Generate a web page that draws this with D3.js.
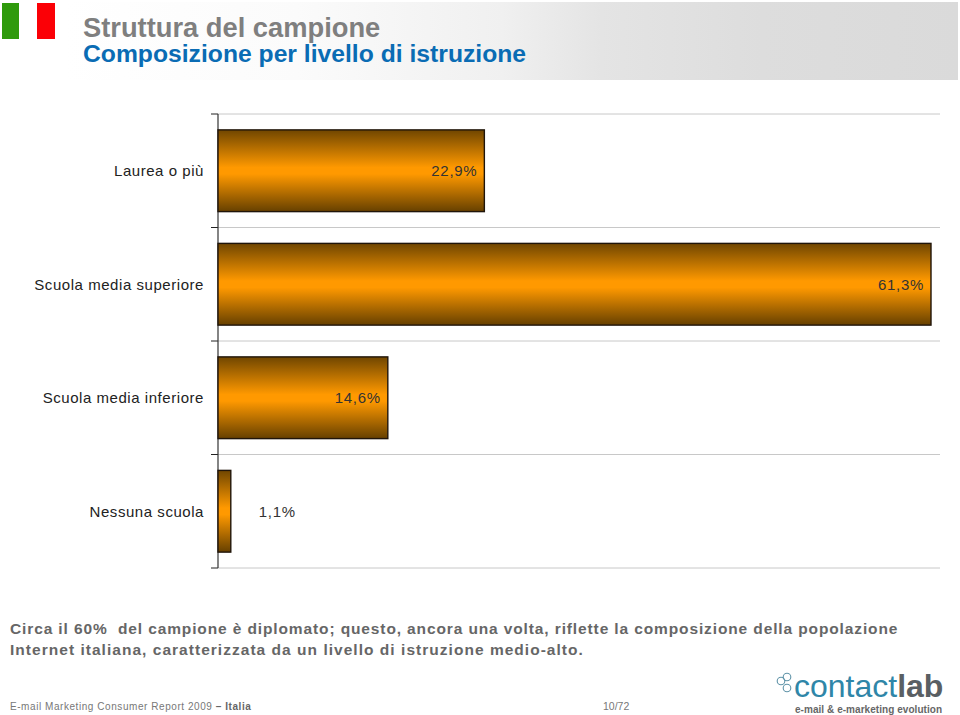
<!DOCTYPE html>
<html><head><meta charset="utf-8">
<script src="https://cdn.jsdelivr.net/npm/d3@7/dist/d3.min.js"></script>
<style>html,body{margin:0;padding:0;background:#fff}svg{display:block}text{font-family:"Liberation Sans",Arial,sans-serif}</style>
</head><body><svg id="c" width="960" height="715"></svg>
<script>
const categories = ["Laurea o più","Scuola media superiore","Scuola media inferiore","Nessuna scuola"];
const values = [22.9,61.3,14.6,1.1];
const valueLabels = ["22,9%","61,3%","14,6%","1,1%"];
const titleLines = ["Struttura del campione","Composizione per livello di istruzione"];
const noteLines = ["Circa il 60%  del campione è diplomato; questo, ancora una volta, riflette la composizione della popolazione","Internet italiana, caratterizzata da un livello di istruzione medio-alto."];

const svg = d3.select("#c");
const defs = svg.append("defs");
const hg = defs.append("linearGradient").attr("id","hdr");
hg.selectAll("stop").data([[0,"#ffffff"],[0.26,"#fbfbfb"],[0.49,"#f0f0f0"],[0.6,"#e4e4e4"],[0.78,"#dddddd"],[1,"#dadada"]]).join("stop")
  .attr("offset",d=>d[0]).attr("stop-color",d=>d[1]);
const bg = defs.append("linearGradient").attr("id","bar").attr("x1",0).attr("y1",0).attr("x2",0).attr("y2",1);
bg.selectAll("stop").data([[0,"#704600"],[0.46,"#ff9900"],[0.54,"#ff9900"],[1,"#664000"]]).join("stop")
  .attr("offset",d=>d[0]).attr("stop-color",d=>d[1]);

// header
svg.append("rect").attr("x",65).attr("y",2).attr("width",893).attr("height",78).attr("fill","url(#hdr)");
svg.append("rect").attr("x",2).attr("y",3).attr("width",17).attr("height",36).attr("fill","#2f9a0c");
svg.append("rect").attr("x",37).attr("y",3).attr("width",18).attr("height",36).attr("fill","#fb0006");
svg.append("text").attr("x",83).attr("y",37).attr("font-size",27.3).attr("font-weight","bold").attr("fill","#7f7f7f").text(titleLines[0]);
svg.append("text").attr("x",83).attr("y",62).attr("font-size",24.7).attr("font-weight","bold").attr("fill","#0a6cb4").text(titleLines[1]);

// chart
const x = d3.scaleLinear().domain([0,61.3]).range([218,931]);
const y = d3.scaleBand().domain(categories).range([114,568]).paddingInner(0.28).paddingOuter(0.14);
const edges = d3.range(categories.length+1).map(i=>114+i*(454/categories.length));

svg.append("g").selectAll("line").data(edges).join("line")
  .attr("x1",218).attr("x2",940).attr("y1",d=>d).attr("y2",d=>d).attr("stroke","#c8c8c8").attr("stroke-width",1);
svg.append("g").selectAll("line").data(edges).join("line")
  .attr("x1",211).attr("x2",218).attr("y1",d=>d).attr("y2",d=>d).attr("stroke","#222").attr("stroke-width",1);
svg.append("line").attr("x1",218).attr("x2",218).attr("y1",114).attr("y2",568).attr("stroke","#333").attr("stroke-width",1.2);

svg.append("g").selectAll("rect").data(categories).join("rect")
  .attr("x",x(0)).attr("y",d=>y(d)).attr("height",y.bandwidth())
  .attr("width",(d,i)=>x(values[i])-x(0))
  .attr("fill","url(#bar)").attr("stroke","#20150a").attr("stroke-width",1.4);

svg.append("g").selectAll("text").data(categories).join("text")
  .attr("x",204).attr("y",d=>y(d)+y.bandwidth()/2+5.5).attr("text-anchor","end")
  .attr("font-size",15).attr("letter-spacing",0.55).attr("fill","#222").text(d=>d);

svg.append("g").selectAll("text").data(valueLabels).join("text")
  .attr("x",(d,i)=> values[i] < 5 ? x(values[i])+65 : x(values[i])-7)
  .attr("y",(d,i)=>y(categories[i])+y.bandwidth()/2+5.5).attr("text-anchor","end")
  .attr("font-size",15).attr("letter-spacing",0.7).attr("fill","#333").text(d=>d);

// note
svg.append("g").selectAll("text").data(noteLines).join("text")
  .attr("x",10).attr("y",(d,i)=>634+i*21).attr("font-size",15.5).attr("font-weight","bold")
  .attr("letter-spacing",(d,i)=>i?1.03:0.88).attr("fill","#666").style("white-space","pre").text(d=>d);

// footer
const foot = svg.append("text").attr("x",10).attr("y",710).attr("font-size",10).attr("fill","#777").attr("letter-spacing",0.56);
foot.append("tspan").text("E-mail Marketing Consumer Report 2009 ");
foot.append("tspan").attr("font-weight","bold").attr("fill","#666").text("– Italia");
svg.append("text").attr("x",603).attr("y",710).attr("font-size",10.5).attr("fill","#777").text("10/72");

// logo
const logo = svg.append("g");
logo.selectAll("circle").data([[781,681],[787,677],[787,688]]).join("circle")
  .attr("cx",d=>d[0]).attr("cy",d=>d[1]).attr("r",3.8).attr("fill","none").attr("stroke","#5f93a8").attr("stroke-width",1.1);
const lt = logo.append("text").attr("x",794).attr("y",696.5).attr("font-size",32);
lt.append("tspan").attr("fill","#2f86a8").text("contact");
lt.append("tspan").attr("fill","#5a5f63").attr("font-weight","bold").text("lab");
logo.append("text").attr("x",795).attr("y",713).attr("font-size",10).attr("font-weight","bold").attr("letter-spacing",0.05).attr("fill","#666").text("e-mail & e-marketing evolution");
</script></body></html>
